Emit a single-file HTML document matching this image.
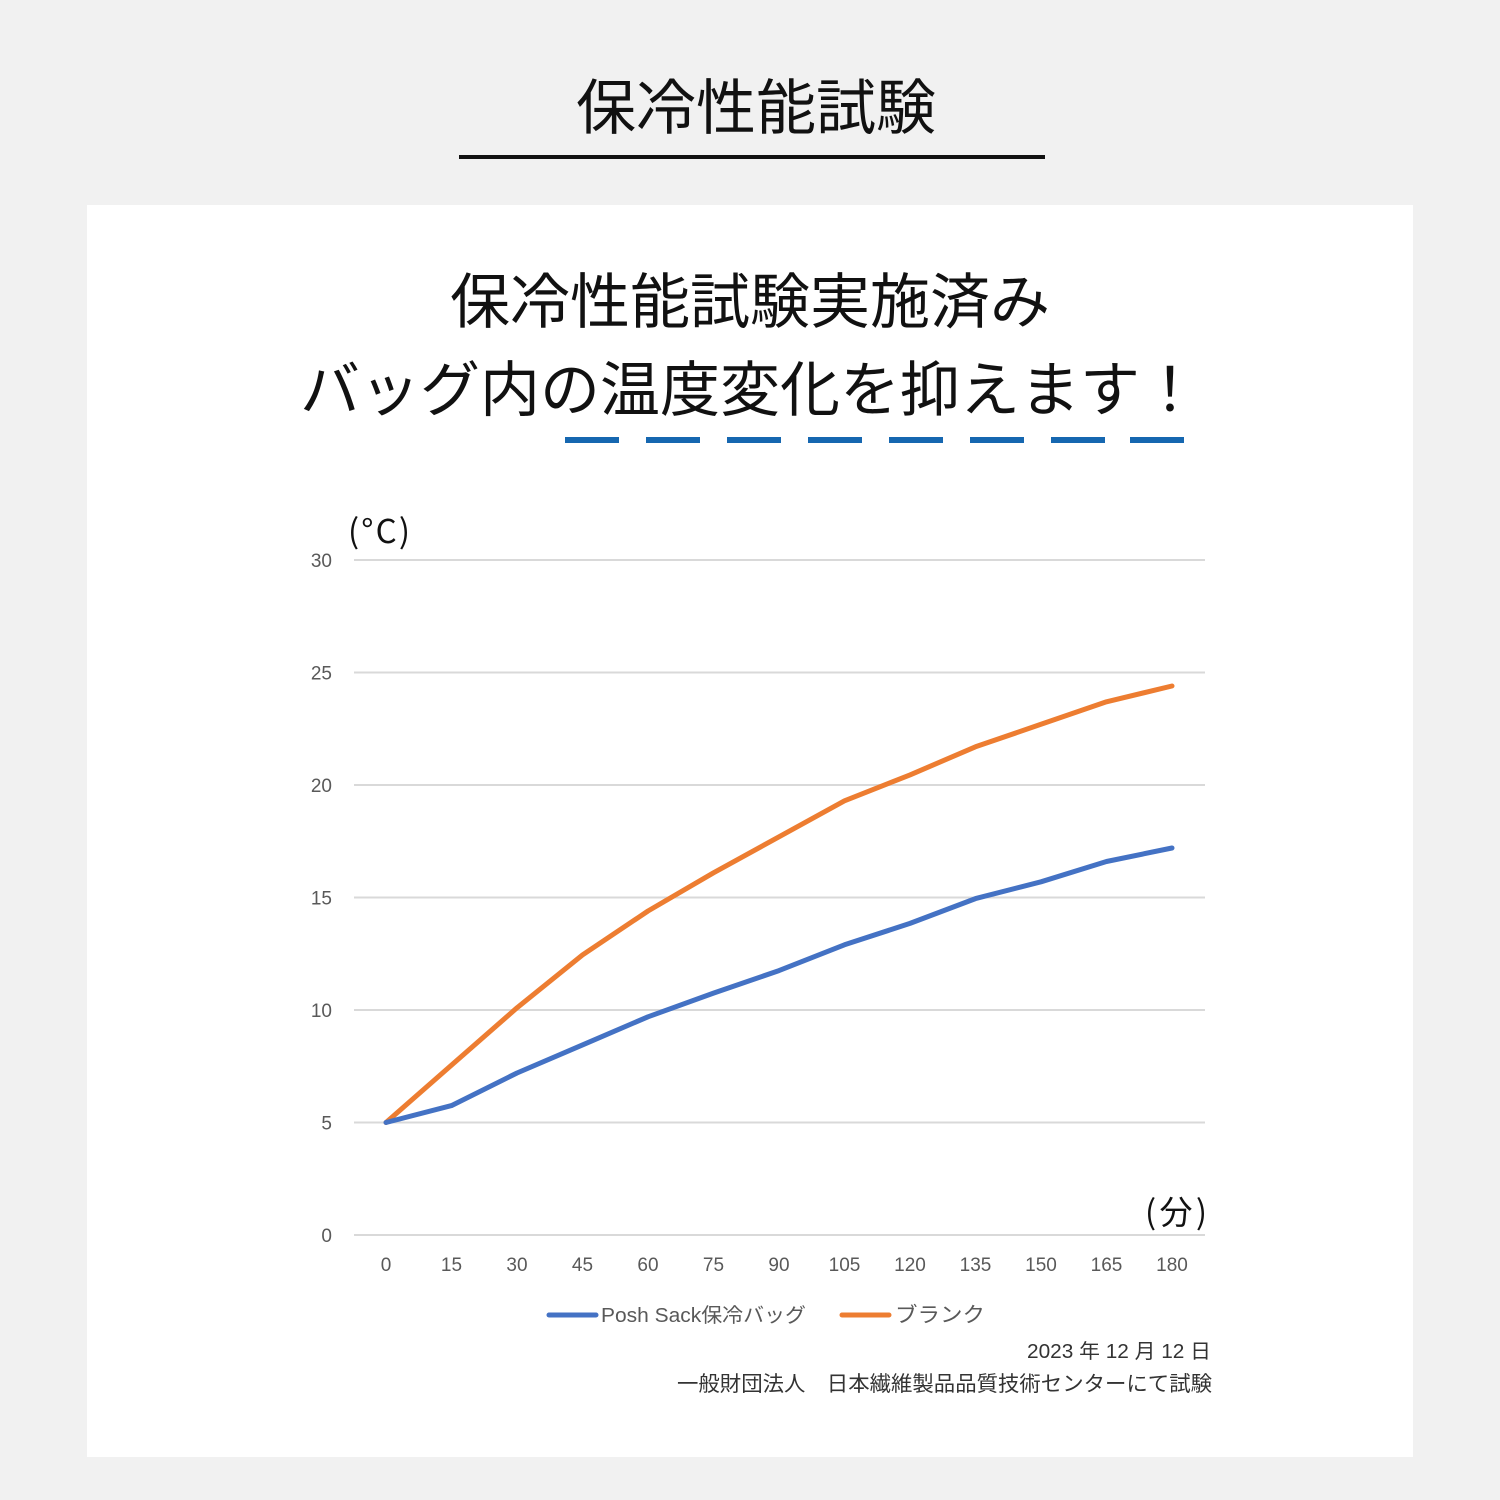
<!DOCTYPE html>
<html lang="ja">
<head>
<meta charset="utf-8">
<style>
html,body{margin:0;padding:0;background:#f1f1f1;}
body{width:1500px;height:1500px;overflow:hidden;}
svg{display:block;}
text{font-family:"Liberation Sans","Noto Sans CJK JP",sans-serif;}
.jp{font-family:"Noto Sans CJK JP","Liberation Sans",sans-serif;}
</style>
</head>
<body>
<svg width="1500" height="1500" viewBox="0 0 1500 1500" xmlns="http://www.w3.org/2000/svg">
  <rect x="0" y="0" width="1500" height="1500" fill="#f1f1f1"/>
  <!-- top title -->
  <text class="jp" x="576" y="129" font-size="60" fill="#111" textLength="360" lengthAdjust="spacingAndGlyphs">保冷性能試験</text>
  <rect x="459" y="155" width="586" height="4" fill="#111"/>

  <!-- white panel -->
  <rect x="87" y="205" width="1326" height="1252" fill="#ffffff"/>

  <!-- headline -->
  <text class="jp" x="450" y="323" font-size="60" fill="#111" textLength="600" lengthAdjust="spacingAndGlyphs">保冷性能試験実施済み</text>
  <text class="jp" x="300" y="411" font-size="60" fill="#111" textLength="900" lengthAdjust="spacingAndGlyphs">バッグ内の温度変化を抑えます！</text>

  <!-- dashed underline -->
  <g fill="#1667b0">
    <rect x="565" y="437" width="54" height="6"/>
    <rect x="646" y="437" width="54" height="6"/>
    <rect x="727" y="437" width="54" height="6"/>
    <rect x="808" y="437" width="54" height="6"/>
    <rect x="889" y="437" width="54" height="6"/>
    <rect x="970" y="437" width="54" height="6"/>
    <rect x="1051" y="437" width="54" height="6"/>
    <rect x="1130" y="437" width="54" height="6"/>
  </g>

  <!-- unit labels -->
  <text class="jp" x="348" y="543" font-size="33" fill="#111" textLength="62" lengthAdjust="spacing">(°C)</text>
  <text class="jp" x="1145" y="1224" font-size="33" fill="#111" textLength="62" lengthAdjust="spacing">(分)</text>

  <!-- gridlines -->
  <g stroke="#d9d9d9" stroke-width="2">
    <line x1="354" y1="560" x2="1205" y2="560"/>
    <line x1="354" y1="672.5" x2="1205" y2="672.5"/>
    <line x1="354" y1="785" x2="1205" y2="785"/>
    <line x1="354" y1="897.5" x2="1205" y2="897.5"/>
    <line x1="354" y1="1010" x2="1205" y2="1010"/>
    <line x1="354" y1="1122.5" x2="1205" y2="1122.5"/>
    <line x1="354" y1="1235" x2="1205" y2="1235"/>
  </g>

  <!-- y tick labels -->
  <g font-size="19" fill="#595959" text-anchor="end">
    <text x="332" y="567">30</text>
    <text x="332" y="679.5">25</text>
    <text x="332" y="792">20</text>
    <text x="332" y="904.5">15</text>
    <text x="332" y="1017">10</text>
    <text x="332" y="1129.5">5</text>
    <text x="332" y="1242">0</text>
  </g>

  <!-- x tick labels -->
  <g font-size="19" fill="#595959" text-anchor="middle">
    <text x="386" y="1271">0</text>
    <text x="451.5" y="1271">15</text>
    <text x="517" y="1271">30</text>
    <text x="582.5" y="1271">45</text>
    <text x="648" y="1271">60</text>
    <text x="713.5" y="1271">75</text>
    <text x="779" y="1271">90</text>
    <text x="844.5" y="1271">105</text>
    <text x="910" y="1271">120</text>
    <text x="975.5" y="1271">135</text>
    <text x="1041" y="1271">150</text>
    <text x="1106.5" y="1271">165</text>
    <text x="1172" y="1271">180</text>
  </g>

  <!-- series: y = 1235 - v*22.5 -->
  <polyline fill="none" stroke="#ed7d31" stroke-width="5" stroke-linejoin="round" stroke-linecap="round"
    points="386,1122.5 451.5,1065.1 517,1007.8 582.5,954.9 648,911 713.5,872.8 779,836.8 844.5,800.8 910,774.9 975.5,746.8 1041,724.3 1106.5,701.8 1172,686"/>
  <polyline fill="none" stroke="#4472c4" stroke-width="5" stroke-linejoin="round" stroke-linecap="round"
    points="386,1122.5 451.5,1105.6 517,1073 582.5,1044.9 648,1016.8 713.5,993.1 779,970.6 844.5,944.8 910,923.4 975.5,898.6 1041,881.8 1106.5,861.5 1172,848"/>

  <!-- legend -->
  <line x1="549" y1="1315" x2="596" y2="1315" stroke="#4472c4" stroke-width="5" stroke-linecap="round"/>
  <text x="601" y="1322" font-size="20" fill="#595959" textLength="205" lengthAdjust="spacingAndGlyphs">Posh Sack保冷バッグ</text>
  <line x1="842" y1="1315" x2="889" y2="1315" stroke="#ed7d31" stroke-width="5" stroke-linecap="round"/>
  <text class="jp" x="895" y="1322" font-size="21" fill="#595959" textLength="90" lengthAdjust="spacingAndGlyphs">ブランク</text>

  <!-- footnotes -->
  <text x="1027" y="1358" font-size="20" fill="#333" textLength="184" lengthAdjust="spacingAndGlyphs">2023 年 12 月 12 日</text>
  <text class="jp" x="677" y="1391" font-size="21" fill="#333" textLength="535" lengthAdjust="spacingAndGlyphs">一般財団法人　日本繊維製品品質技術センターにて試験</text>
</svg>
</body>
</html>
